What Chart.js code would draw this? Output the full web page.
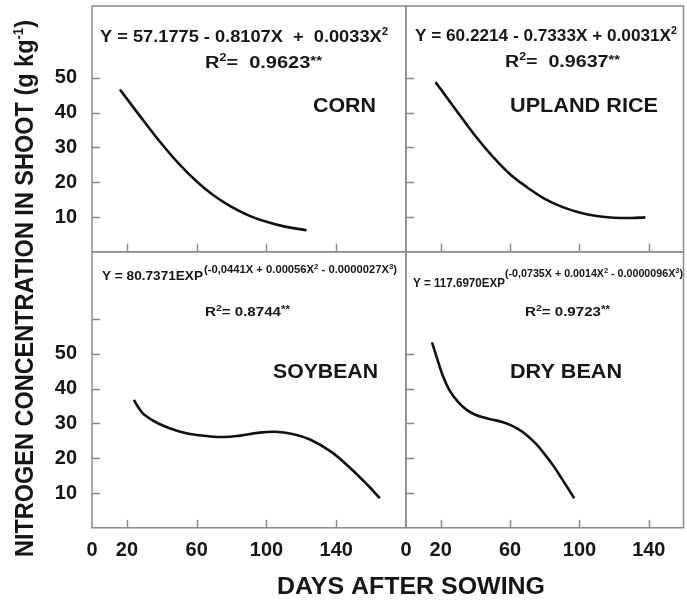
<!DOCTYPE html>
<html><head><meta charset="utf-8">
<script src="https://cdn.jsdelivr.net/npm/chart.js@4"></script>
<style>
html,body{margin:0;padding:0;background:#fff;}
#wrap{position:relative;width:687px;height:606px;overflow:hidden;background:#fff;}
#wrap canvas{position:absolute;left:0;top:0;}
</style></head><body>
<div id="wrap">
<canvas id="cTL" width="687" height="606"></canvas>
<canvas id="cTR" width="687" height="606"></canvas>
<canvas id="cBL" width="687" height="606"></canvas>
<canvas id="cBR" width="687" height="606"></canvas>
</div>
<script>
// ---- data ----
const dayTicks = [0, 20, 60, 100, 140];
const dayTickMarks = [20, 60, 100, 140];
const nTicks = [10, 20, 30, 40, 50];
const nTicksSoy = [10, 20, 30, 40, 50, 60];
const nTickLabels = ['10', '20', '30', '40', '50'];

const cornDays = [16, 20, 30, 40, 50, 60, 70, 80, 90, 100, 110, 123];
const cornN    = [46.7, 44.0, 37.4, 31.0, 25.2, 20.2, 16.1, 12.9, 10.4, 8.6, 7.3, 6.2];

const riceDays = [17, 20, 30, 40, 50, 60, 70, 80, 90, 100, 110, 120, 130, 138];
const riceN    = [48.8, 46.8, 40.0, 33.3, 27.4, 22.3, 18.5, 15.2, 12.9, 11.3, 10.3, 9.8, 9.7, 9.9];

const soyDays = [24, 27, 30, 38, 50, 60, 75, 85, 95, 105, 115, 125, 137, 148, 158, 165];
const soyN    = [36.8, 34.3, 32.5, 30.0, 27.7, 26.7, 26.1, 26.5, 27.3, 27.6, 27.0, 25.4, 21.9, 17.2, 12.3, 8.5];

const beanDays = [15, 18, 21, 25, 30, 35, 40, 45, 50, 55, 60, 65, 70, 75, 80, 85, 90, 97];
const beanN    = [53.3, 48.6, 44.0, 39.6, 36.2, 33.9, 32.5, 31.7, 31.1, 30.5, 29.6, 28.3, 26.5, 24.1, 21.1, 17.8, 14.0, 8.5];

// ---- drawing helpers ----
const FONT = '"Liberation Sans", Arial, Helvetica, sans-serif';
const INK = '#161616';

function drawRuns(ctx, runs, x, y, w, rot) {
  let nat = 0;
  const widths = runs.map(r => {
    ctx.font = 'bold ' + r.s + 'px ' + FONT;
    const mw = ctx.measureText(r.t).width;
    nat += mw;
    return mw;
  });
  const sx = w ? w / nat : 1;
  ctx.save();
  ctx.translate(x, y);
  if (rot) ctx.rotate(rot);
  ctx.scale(sx, 1);
  ctx.textAlign = 'left';
  ctx.textBaseline = 'alphabetic';
  ctx.fillStyle = INK;
  let cx = 0;
  runs.forEach((r, i) => {
    ctx.font = 'bold ' + r.s + 'px ' + FONT;
    ctx.fillText(r.t, cx, r.dy || 0);
    cx += widths[i];
  });
  ctx.restore();
}

function panelPlugin(cfg) {
  return {
    id: 'panel_' + cfg.id,
    afterDraw(chart) {
      const ctx = chart.ctx;
      const a = chart.chartArea;
      const xs = chart.scales.x, ys = chart.scales.y;
      ctx.save();
      ctx.strokeStyle = '#8a8a8a';
      ctx.lineWidth = 1.5;
      ctx.strokeRect(a.left, a.top, a.right - a.left, a.bottom - a.top);
      ctx.beginPath();
      dayTickMarks.forEach(v => {
        const px = Math.round(xs.getPixelForValue(v)) + 0.5;
        ctx.moveTo(px, a.bottom);
        ctx.lineTo(px, a.bottom - 8);
      });
      cfg.yMarks.forEach(v => {
        const py = Math.round(ys.getPixelForValue(v)) + 0.5;
        ctx.moveTo(a.left, py);
        ctx.lineTo(a.left + 8, py);
      });
      ctx.stroke();
      ctx.restore();
      cfg.texts.forEach(t => drawRuns(ctx, t.runs, t.x, t.y, t.w, t.rot));
    }
  };
}

function makePanel(cfg) {
  const r = cfg.rect;
  return new Chart(document.getElementById(cfg.id), {
    type: 'scatter',
    data: {
      datasets: [{
        data: cfg.days.map((d, i) => ({ x: d, y: cfg.vals[i] })),
        showLine: true,
        borderColor: '#111111',
        borderWidth: 2.6,
        pointRadius: 0,
        pointHoverRadius: 0,
        tension: 0.4,
        fill: false
      }]
    },
    options: {
      responsive: false,
      animation: false,
      devicePixelRatio: 1,
      events: [],
      layout: { padding: { left: 0, top: r.t, right: 687 - r.r, bottom: 0 } },
      plugins: { legend: { display: false }, tooltip: { enabled: false } },
      scales: {
        x: {
          type: 'linear', min: 0, max: cfg.xMax, position: 'bottom',
          grid: { display: false, drawTicks: false }, border: { display: false },
          afterBuildTicks: s => { s.ticks = dayTicks.map(v => ({ value: v })); },
          afterFit: s => { s.height = 606 - r.b; s.paddingLeft = 0; s.paddingRight = 0; },
          ticks: {
            display: cfg.showX, padding: 11, color: INK, autoSkip: false, maxRotation: 0,
            font: { family: FONT, size: 20, weight: 'bold' },
            callback: v => String(v)
          }
        },
        y: {
          type: 'linear', min: 0, max: cfg.yMax, position: 'left',
          grid: { display: false, drawTicks: false }, border: { display: false },
          afterBuildTicks: s => { s.ticks = cfg.yMarks.map(v => ({ value: v })); },
          afterFit: s => { s.width = r.l; s.paddingTop = 0; s.paddingBottom = 0; },
          ticks: {
            display: cfg.showY, padding: 15, color: INK, autoSkip: false,
            font: { family: FONT, size: 20, weight: 'bold' },
            callback: v => { const i = nTicks.indexOf(v); return i >= 0 ? nTickLabels[i] : ''; }
          }
        }
      }
    },
    plugins: [panelPlugin(cfg)]
  });
}

makePanel({
  id: 'cTL', rect: { l: 92, t: 6, r: 406, b: 251.75 }, xMax: 180, yMax: 70.7,
  days: cornDays, vals: cornN, yMarks: nTicks, showX: false, showY: true,
  texts: [
    { x: 100, y: 41.5, w: 288, runs: [{ t: 'Y = 57.1775 - 0.8107X  +  0.0033X', s: 16 }, { t: '2', s: 10, dy: -7 }] },
    { x: 205, y: 68, w: 117, runs: [{ t: 'R', s: 16 }, { t: '2', s: 10, dy: -7 }, { t: '=  0.9623', s: 16 }, { t: '**', s: 12, dy: -3 }] },
    { x: 313, y: 112, w: 63, runs: [{ t: 'CORN', s: 20 }] }
  ]
});

makePanel({
  id: 'cTR', rect: { l: 406, t: 6, r: 683.5, b: 251.75 }, xMax: 160, yMax: 70.7,
  days: riceDays, vals: riceN, yMarks: nTicks, showX: false, showY: false,
  texts: [
    { x: 415, y: 41, w: 262, runs: [{ t: 'Y = 60.2214 - 0.7333X + 0.0031X', s: 16 }, { t: '2', s: 10, dy: -7 }] },
    { x: 505, y: 67, w: 115, runs: [{ t: 'R', s: 16 }, { t: '2', s: 10, dy: -7 }, { t: '=  0.9637', s: 16 }, { t: '**', s: 12, dy: -3 }] },
    { x: 510, y: 111.5, w: 148, runs: [{ t: 'UPLAND RICE', s: 20 }] }
  ]
});

makePanel({
  id: 'cBL', rect: { l: 92, t: 251.75, r: 406, b: 527.75 }, xMax: 180, yMax: 79.4,
  days: soyDays, vals: soyN, yMarks: nTicksSoy, showX: true, showY: true,
  texts: [
    { x: 102, y: 279.5, w: 101, runs: [{ t: 'Y = 80.7371EXP', s: 13 }] },
    { x: 204, y: 273, w: 193, runs: [{ t: '(-0,0441X + 0.00056X', s: 10 }, { t: '2', s: 7, dy: -4 }, { t: ' - 0.0000027X', s: 10 }, { t: '3', s: 7, dy: -4 }, { t: ')', s: 10 }] },
    { x: 205, y: 316, w: 85, runs: [{ t: 'R', s: 13 }, { t: '2', s: 9, dy: -5 }, { t: '= 0.8744', s: 13 }, { t: '**', s: 10, dy: -3 }] },
    { x: 273, y: 378, w: 105, runs: [{ t: 'SOYBEAN', s: 20 }] },
    { x: 33, y: 557, w: 537, rot: -Math.PI / 2, runs: [{ t: 'NITROGEN CONCENTRATION IN SHOOT (g kg', s: 25 }, { t: '-1', s: 14, dy: -10 }, { t: ')', s: 25 }] },
    { x: 277, y: 594, w: 268, runs: [{ t: 'DAYS AFTER SOWING', s: 24 }] }
  ]
});

makePanel({
  id: 'cBR', rect: { l: 406, t: 251.75, r: 683.5, b: 527.75 }, xMax: 160, yMax: 79.4,
  days: beanDays, vals: beanN, yMarks: nTicks, showX: true, showY: false,
  texts: [
    { x: 413, y: 287, w: 92, runs: [{ t: 'Y = 117.6970EXP', s: 13 }] },
    { x: 505, y: 276.5, w: 178, runs: [{ t: '(-0,0735X + 0.0014X', s: 10 }, { t: '2', s: 7, dy: -4 }, { t: ' - 0.0000096X', s: 10 }, { t: '3', s: 7, dy: -4 }, { t: ')', s: 10 }] },
    { x: 525, y: 316, w: 85, runs: [{ t: 'R', s: 13 }, { t: '2', s: 9, dy: -5 }, { t: '= 0.9723', s: 13 }, { t: '**', s: 10, dy: -3 }] },
    { x: 510, y: 378, w: 112, runs: [{ t: 'DRY BEAN', s: 20 }] }
  ]
});
</script>
</body></html>
